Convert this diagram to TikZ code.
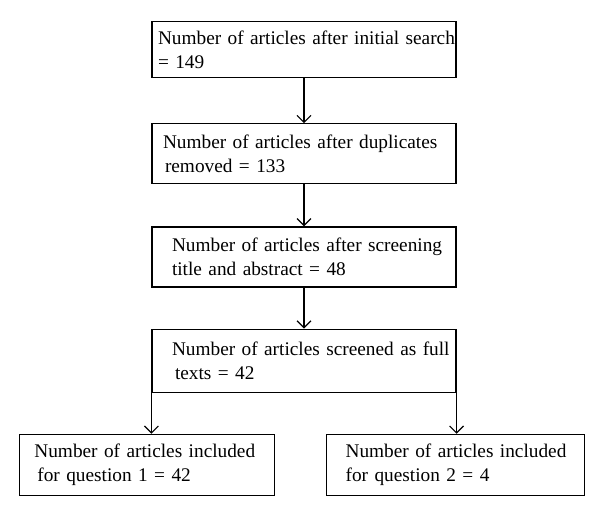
\documentclass[tikz,border=0pt]{standalone}
\usepackage{fontspec}
\setmainfont{Liberation Serif}
\usetikzlibrary{arrows.meta}
\usetikzlibrary{positioning}

\begin{document}
\begin{tikzpicture}[x=1pt, y=-1pt,
    stage/.style={rectangle, draw=black, line width=1.2pt, anchor=north, inner xsep=0pt,
    text width=304pt, minimum height=60pt, align=left, font=\fontsize{19.3}{24}\selectfont},
    flow/.style={-{Straight Barb[length=7pt,width=14pt]}, line width=1.2pt},]
    \useasboundingbox (0,0) rectangle (600,517);

    \node (initial) [stage, minimum height=56pt] at (304,21)
    {\hspace*{6pt}Number of articles after initial search\\\hspace*{6pt}= 149};

    \node (removed) [stage, below=45pt of initial]
    {\hspace*{11pt}Number of articles after duplicates\\\hspace*{13pt}removed = 133};

    \node (screened) [stage, below=42pt of removed]
    {\hspace*{20pt}Number of articles after screening\\\hspace*{20pt}title and abstract = 48};

    \node (full) [stage, minimum height=63pt, below=41pt of screened]
    {\hspace*{20pt}Number of articles screened as full\\\hspace*{23pt}texts = 42};

    \node (qone) [stage, text width=255pt, minimum height=61pt, below=41pt of full.south west, xshift=-4.5pt]
    {\hspace*{15pt}Number of articles included\\\hspace*{18pt}for question 1 = 42};

    \node (qtwo) [stage, text width=258pt, minimum height=61pt, below=41pt of full.south east, xshift=-1pt]
    {\hspace*{19pt}Number of articles included\\\hspace*{19pt}for question 2 = 4};

    \draw [flow] (initial) -- (removed);
    \draw [flow] (removed) -- (screened);
    \draw [flow] (screened) -- (full);
    \draw [flow] (full.south west) -- (full.south west |- qone.north);
    \draw [flow] (full.south east) -- (full.south east |- qtwo.north);
\end{tikzpicture}
\end{document}
